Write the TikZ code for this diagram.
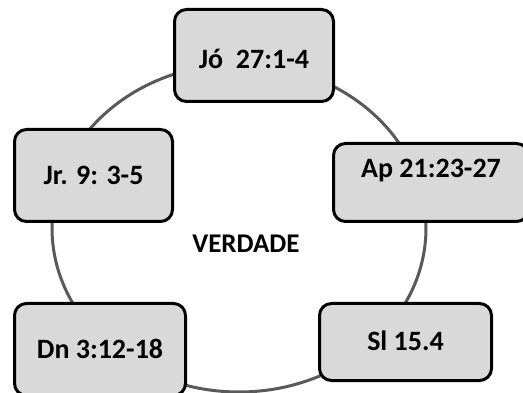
\documentclass[tikz,border=0pt]{standalone}
\usepackage{fontspec}
\setmainfont{Carlito}
\usetikzlibrary{shapes.geometric, positioning}
\tikzstyle{verse} = [rectangle, rounded corners=12pt, draw, line width=3pt, fill=black!15, text centered, text height=20pt, text depth=2pt, font=\bfseries\fontsize{28}{31}\selectfont]
\tikzstyle{ring}  = [ellipse, draw=black!65, line width=3pt]
\tikzstyle{theme} = [font=\bfseries\fontsize{27}{30}\selectfont]

\begin{document}
\begin{tikzpicture}[x=1pt, y=-1pt]
	\useasboundingbox (0,0) rectangle (523,393);
	\clip (0,0) rectangle (523,393);

	% Ring
	\node (ring) [ring, minimum width=374pt, minimum height=328pt] at (239,228) {};

	% Verses
	\node (jo) [verse, minimum width=159pt, minimum height=92pt, text height=26pt, text depth=0pt] at (254,55.5) {Jó\ \ 27:1-4};
	\node (ap) [verse, minimum width=195pt, minimum height=78pt, text height=20pt, text depth=30pt] at (431,182.5) {Ap 21:23-27};
	\node (sl) [verse, minimum width=172pt, minimum height=77pt] at (405.5,342) {Sl 15.4};
	\node (dn) [verse, minimum width=171pt, minimum height=92pt] at (100,349.5) {Dn 3:12-18};
	\node (jr) [verse, minimum width=158pt, minimum height=92pt] at (93.5,175.5) {Jr. 9: 3-5};

	% Centre
	\node (verdade) [theme] at (246,244) {VERDADE};

\end{tikzpicture}
\end{document}
